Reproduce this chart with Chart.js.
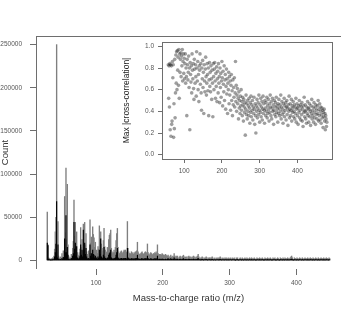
<!DOCTYPE html>
<html>
<head>
<meta charset="utf-8">
<script src="https://cdn.jsdelivr.net/npm/chart.js@4.4.1/dist/chart.umd.min.js"></script>
<style>
  body { margin: 0; background: #fff; }
  #wrap { position: relative; width: 360px; height: 315px; }
  #mainChart { position: absolute; left: 0; top: 0; }
  #insetChart { position: absolute; left: 110px; top: 30px; }
</style>
</head>
<body>
<div id="wrap">
  <canvas id="mainChart" width="360" height="315"></canvas>
  <canvas id="insetChart" width="235" height="160"></canvas>
</div>
<script>
// m/z range of the spectrum (one bar per integer m/z)
const mzFirst = 27;
const mzLast = 450;

// total counts per m/z (grey bars)
const countAll = [
  56000, 18000, 3000, 2000, 1500, 1000, 2000, 1000, 3000, 2000,
  5000, 13000, 33000, 50000, 250000, 9000, 45000, 5000, 3000, 2000,
  4000, 2000, 8000, 4000, 11000, 6000, 74000, 32000, 107000, 24000,
  88000, 18000, 5000, 3000, 2000, 3000, 7000, 4000, 14000, 22000,
  70000, 28000, 44000, 14000, 33000, 9000, 6000, 5000, 9000, 13000,
  38000, 15000, 24000, 11000, 42000, 28000, 44000, 18000, 31000, 10000,
  7000, 6000, 11000, 8000, 47000, 20000, 27000, 13000, 39000, 30000,
  26000, 15000, 21000, 9000, 12000, 8000, 16000, 13000, 40000, 29000,
  33000, 19000, 14000, 11000, 23000, 37000, 16000, 12000, 10000, 9000,
  15000, 13000, 24000, 29000, 31000, 35000, 14000, 10000, 8000, 9000,
  12000, 9000, 15000, 23000, 31000, 37000, 15000, 10000, 8000, 7000,
  10000, 11000, 9000, 8000, 10000, 12000, 11000, 12000, 10000, 9000,
  45000, 14000, 10000, 8000, 7000, 8000, 10000, 9000, 8000, 7000,
  9000, 8000, 10000, 9000, 11000, 21000, 10000, 8000, 7000, 6000,
  8000, 9000, 10000, 8000, 7000, 8000, 9000, 10000, 8000, 9000,
  19000, 9000, 7000, 6000, 8000, 9000, 8000, 7000, 6000, 8000,
  7000, 9000, 8000, 10000, 8000, 18000, 8000, 6000, 7000, 6000,
  7000, 6000, 8000, 7000, 6000, 5000, 6000, 7000, 6000, 5000,
  5000, 6000, 4000, 3000, 5000, 6000, 4000, 2000, 5000, 4000,
  8000, 5000, 3000, 5000, 4000, 5000, 3000, 2000, 4000, 5000,
  4000, 2000, 4000, 5000, 6000, 4000, 2000, 4000, 3000, 4000,
  2000, 4000, 5000, 4000, 2000, 4000, 3000, 2000, 4000, 5000,
  4000, 2000, 3000, 4000, 3000, 5000, 7000, 4000, 2000, 3000,
  1000, 3000, 4000, 3000, 1000, 3000, 2000, 3000, 4000, 3000,
  1000, 3000, 2000, 3000, 3000, 1000, 3000, 4000, 3000, 1000,
  2000, 3000, 1000, 2000, 3000, 2000, 3000, 1000, 3000, 4000,
  3000, 1000, 2000, 3000, 2000, 1000, 3000, 2000, 3000, 1000,
  2000, 3000, 1000, 2000, 3000, 2000, 1000, 3000, 2000, 2000,
  3000, 1000, 500, 3000, 2000, 3000, 1000, 500, 2000, 3000,
  2000, 1000, 3000, 2000, 500, 2000, 3000, 2000, 1000, 3000,
  2000, 500, 2000, 3000, 2000, 1000, 3000, 2000, 500, 2000,
  3000, 2000, 1000, 500, 3000, 2000, 2000, 1000, 3000, 2000,
  500, 2000, 3000, 2000, 1000, 500, 3000, 2000, 2000, 1000,
  3000, 2000, 500, 2000, 3000, 2000, 1000, 500, 3000, 2000,
  2000, 3000, 1000, 500, 2000, 3000, 2000, 1000, 500, 3000,
  2000, 2000, 1000, 3000, 2000, 500, 3000, 2000, 2000, 1000,
  3000, 2000, 500, 2000, 3000, 4000, 5000, 3000, 1000, 500,
  3000, 2000, 2000, 1000, 3000, 2000, 500, 2000, 3000, 2000,
  2000, 1000, 3000, 2000, 500, 2000, 3000, 2000, 2000, 1000,
  3000, 2000, 500, 2000, 3000, 2000, 2000, 1000, 3000, 2000,
  500, 2000, 3000, 2000, 2000, 1000, 3000, 2000, 500, 2000,
  3000, 2000, 2000, 1000, 3000, 2000, 500, 2000, 3000, 2000,
  2000, 1000, 3000, 2000
];

// counts of the selected subset per m/z (black bars)
const countSub = [
  20000, 17000, 1500, 800, 500, 300, 600, 300, 1000, 600,
  1500, 4000, 9000, 19000, 68000, 3000, 18000, 1500, 1000, 600,
  1200, 600, 2500, 1200, 3500, 2000, 25000, 9000, 52000, 9000,
  15000, 6000, 1500, 1000, 700, 1000, 2500, 1500, 5000, 8000,
  44000, 13000, 20000, 5000, 16000, 3000, 2000, 1500, 3000, 5000,
  18000, 6000, 12000, 4000, 35000, 12000, 20000, 7000, 14000, 4000,
  2000, 1000, 2500, 1500, 18000, 5000, 8000, 3000, 12000, 7000,
  6000, 3000, 5000, 1500, 3000, 1500, 4000, 2500, 12000, 7000,
  25000, 4000, 3000, 2000, 6000, 15000, 4000, 2500, 2000, 1500,
  3000, 2500, 6000, 8000, 9000, 12000, 3000, 2000, 1500, 1500,
  2500, 2000, 3000, 6000, 9000, 14000, 3000, 2000, 1500, 1500,
  2000, 2500, 2000, 1500, 2000, 2500, 2000, 2500, 2000, 1500,
  14000, 3000, 2000, 1500, 1500, 1500, 2000, 2000, 1500, 1500,
  2000, 1500, 2000, 2000, 2500, 6000, 2000, 1500, 1500, 1000,
  1500, 2000, 2000, 1500, 1500, 1500, 2000, 2000, 1500, 2000,
  5000, 2000, 1500, 1000, 1500, 2000, 1500, 1500, 1000, 1500,
  1500, 2000, 1500, 2000, 1500, 5000, 1500, 1000, 1500, 1000,
  1500, 1000, 1500, 1500, 1000, 1000, 1000, 1500, 1000, 1000,
  1500, 2000, 1200, 800, 1500, 2000, 1200, 600, 1500, 1200,
  3000, 1500, 900, 1500, 1200, 1500, 900, 600, 1200, 1500,
  1200, 600, 1200, 1500, 2000, 1200, 600, 1200, 900, 1200,
  600, 1200, 1500, 1200, 600, 1200, 900, 600, 1200, 1500,
  1200, 600, 900, 1200, 900, 1500, 2500, 1200, 600, 900,
  300, 900, 1200, 900, 300, 900, 600, 900, 1200, 900,
  300, 900, 600, 900, 900, 300, 900, 1200, 900, 300,
  600, 900, 300, 600, 900, 600, 900, 300, 900, 1200,
  900, 300, 600, 900, 600, 300, 900, 600, 900, 300,
  600, 900, 300, 600, 900, 600, 300, 900, 600, 600,
  900, 300, 150, 900, 600, 900, 300, 150, 600, 900,
  600, 300, 900, 600, 150, 600, 900, 600, 300, 900,
  600, 150, 600, 900, 600, 300, 900, 600, 150, 600,
  900, 600, 300, 150, 900, 600, 600, 300, 900, 600,
  150, 600, 900, 600, 300, 150, 900, 600, 600, 300,
  900, 600, 150, 600, 900, 600, 300, 150, 900, 600,
  600, 900, 300, 150, 600, 900, 600, 300, 150, 900,
  600, 600, 300, 900, 600, 150, 900, 600, 600, 300,
  900, 600, 150, 600, 900, 1200, 1500, 900, 300, 150,
  900, 600, 600, 300, 900, 600, 150, 600, 900, 600,
  600, 300, 900, 600, 150, 600, 900, 600, 600, 300,
  900, 600, 150, 600, 900, 600, 600, 300, 900, 600,
  150, 600, 900, 600, 600, 300, 900, 600, 150, 600,
  900, 600, 600, 300, 900, 600, 150, 600, 900, 600,
  600, 300, 900, 600
];

const countTicks = [0, 50000, 100000, 150000, 200000, 250000];
const mzTicks = [100, 200, 300, 400];

// inset: max |cross-correlation| per m/z
const corrMzFirst = 58;
const corrMax = [
  0.83, 0.52, 0.82, 0.44, 0.84, 0.23, 0.83, 0.17, 0.82, 0.28,
  0.31, 0.86, 0.71, 0.83, 0.16, 0.47, 0.24, 0.88, 0.34, 0.57,
  0.92, 0.66, 0.95, 0.60, 0.96, 0.78, 0.90, 0.64, 0.97, 0.52,
  0.93, 0.76, 0.88, 0.94, 0.72, 0.91, 0.82, 0.97, 0.68, 0.86,
  0.93, 0.75, 0.89,
  0.70, 0.84, 0.93, 0.66, 0.80, 0.72, 0.36, 0.88, 0.83, 0.69,
  0.76, 0.91, 0.62, 0.80, 0.23, 0.85, 0.74, 0.67, 0.82, 0.57,
  0.93, 0.78, 0.70, 0.84, 0.61, 0.51, 0.88, 0.79, 0.66, 0.83,
  0.72, 0.54, 0.95, 0.80, 0.68, 0.86, 0.60, 0.74, 0.49, 0.82,
  0.78, 0.93, 0.65, 0.84, 0.57, 0.41, 0.80, 0.70, 0.87, 0.62,
  0.76, 0.38, 0.83, 0.68, 0.58, 0.79, 0.90, 0.72, 0.55, 0.66,
  0.84, 0.74, 0.59, 0.80, 0.36, 0.69, 0.85, 0.63, 0.76, 0.58,
  0.82, 0.70, 0.51, 0.78, 0.66, 0.35, 0.84, 0.72, 0.60, 0.79,
  0.85, 0.68, 0.52, 0.75, 0.63, 0.81, 0.49, 0.70, 0.77, 0.57,
  0.84, 0.66, 0.72, 0.48, 0.80, 0.62, 0.75, 0.53, 0.68, 0.86,
  0.71, 0.45, 0.77, 0.65, 0.58, 0.82, 0.50, 0.69, 0.74, 0.42,
  0.63, 0.79, 0.56, 0.70, 0.38, 0.66, 0.60, 0.76, 0.47, 0.72,
  0.55, 0.68, 0.41, 0.64, 0.74, 0.50, 0.59, 0.36, 0.69, 0.46,
  0.62, 0.53, 0.71, 0.44, 0.57, 0.86, 0.49, 0.64, 0.40, 0.55,
  0.61, 0.47, 0.52, 0.33, 0.58, 0.43, 0.50, 0.38, 0.54, 0.45,
  0.60, 0.41, 0.49, 0.36, 0.53, 0.46, 0.31, 0.51, 0.44, 0.39,
  0.48, 0.18, 0.42, 0.55, 0.37, 0.47, 0.33, 0.50, 0.40, 0.45,
  0.36, 0.52, 0.43, 0.29, 0.48, 0.39, 0.54, 0.35, 0.46, 0.41,
  0.50, 0.32, 0.44, 0.38, 0.53, 0.42, 0.28, 0.47, 0.36, 0.20,
  0.45, 0.40, 0.51, 0.34, 0.43, 0.48, 0.37, 0.55, 0.41, 0.30,
  0.46, 0.39, 0.52, 0.35, 0.44, 0.49, 0.32, 0.42, 0.54, 0.38,
  0.47, 0.41, 0.29, 0.50, 0.43, 0.36, 0.48, 0.40, 0.53, 0.34,
  0.45, 0.38, 0.51, 0.42, 0.31, 0.47, 0.39, 0.55, 0.44, 0.36,
  0.49, 0.33, 0.43, 0.52, 0.40, 0.46, 0.28, 0.41, 0.50, 0.37,
  0.44, 0.48, 0.35, 0.53, 0.39, 0.45, 0.42, 0.30, 0.47, 0.38,
  0.51, 0.43, 0.36, 0.46, 0.40, 0.55, 0.33, 0.44, 0.49, 0.37,
  0.42, 0.29, 0.47, 0.39, 0.52, 0.35, 0.45, 0.41, 0.48, 0.32,
  0.44, 0.50, 0.37, 0.43, 0.27, 0.46, 0.40, 0.54, 0.34, 0.42,
  0.47, 0.36, 0.41, 0.51, 0.31, 0.45, 0.39, 0.43, 0.49, 0.35,
  0.40, 0.46, 0.33, 0.44, 0.38, 0.52, 0.30, 0.42, 0.47, 0.36,
  0.43, 0.28, 0.45, 0.39, 0.50, 0.34, 0.41, 0.46, 0.32, 0.44,
  0.37, 0.48, 0.31, 0.42, 0.26, 0.45, 0.39, 0.53, 0.35, 0.40,
  0.46, 0.33, 0.41, 0.29, 0.44, 0.38, 0.49, 0.36, 0.43, 0.30,
  0.42, 0.47, 0.35, 0.40, 0.27, 0.45, 0.38, 0.51, 0.33, 0.41,
  0.36, 0.44, 0.30, 0.48, 0.39, 0.34, 0.43, 0.28, 0.46, 0.37,
  0.41, 0.33, 0.45, 0.38, 0.50, 0.31, 0.42, 0.36, 0.47, 0.32,
  0.40, 0.44, 0.29, 0.37, 0.43, 0.34, 0.41, 0.25, 0.39, 0.35,
  0.42, 0.31, 0.38, 0.23, 0.36, 0.33, 0.26, 0.30
];
const corrTicks = [0, 0.2, 0.4, 0.6, 0.8, 1.0];
const corrMzTicks = [100, 200, 300, 400];

const fontFamily = 'Liberation Sans, Arial, sans-serif';
const lineColor = '#6e6e6e';

// build {x, y} points for the library
const allPoints = countAll.map((v, i) => ({ x: mzFirst + i, y: v }));
const subPoints = countSub.map((v, i) => ({ x: mzFirst + i, y: v }));
const corrPoints = corrMax.map((v, i) => ({ x: corrMzFirst + i, y: v }));

// R-style frame lines
const frameLines = {
  id: 'frameLines',
  afterDraw(chart, args, opts) {
    const { ctx, chartArea } = chart;
    ctx.save();
    ctx.strokeStyle = lineColor;
    ctx.lineWidth = 1;
    ctx.beginPath();
    if (opts.box) {
      ctx.strokeRect(Math.round(chartArea.left) + 0.5, Math.round(chartArea.top) + 0.5,
        Math.round(chartArea.right - chartArea.left), Math.round(chartArea.bottom - chartArea.top));
    } else {
      const y = Math.round(chartArea.top) + 0.5;
      ctx.moveTo(chartArea.left, y);
      ctx.lineTo(chartArea.right, y);
      const x = Math.round(chartArea.left) + 0.5;
      ctx.moveTo(x, chartArea.top);
      ctx.lineTo(x, chartArea.bottom);
      ctx.stroke();
    }
    ctx.restore();
  }
};

// spectrum
new Chart(document.getElementById('mainChart'), {
  type: 'bar',
  data: {
    datasets: [
      { label: 'subset', data: subPoints, backgroundColor: '#000', barThickness: 0.5, order: 0 },
      { label: 'all', data: allPoints, backgroundColor: '#7f7f7f', barThickness: 0.7, order: 1 }
    ]
  },
  options: {
    responsive: false,
    animation: false,
    devicePixelRatio: 1,
    layout: { padding: { top: 36, right: 19, left: 0, bottom: 0 } },
    plugins: { legend: { display: false }, tooltip: { enabled: false }, frameLines: { box: false } },
    datasets: { bar: { grouped: false } },
    scales: {
      x: {
        type: 'linear',
        min: 10.1,
        max: 466.9,
        offset: false,
        afterBuildTicks: s => { s.ticks = mzTicks.map(v => ({ value: v })); },
        afterFit: s => { s.height = 46; },
        border: { display: false },
        grid: { drawOnChartArea: false, offset: false, tickLength: 6, color: lineColor },
        ticks: { color: '#555', font: { family: fontFamily, size: 6.5 }, padding: 4, maxRotation: 0 },
        title: { display: true, text: 'Mass-to-charge ratio (m/z)', color: '#333',
          font: { family: fontFamily, size: 9.5 }, padding: { top: 4, bottom: 11 } }
      },
      y: {
        min: -10000,
        max: 260000,
        afterBuildTicks: s => { s.ticks = countTicks.map(v => ({ value: v })); },
        afterFit: s => { s.width = 36; },
        border: { display: false },
        grid: { drawOnChartArea: false, tickLength: 6, color: lineColor },
        ticks: { color: '#555', font: { family: fontFamily, size: 6.5 }, padding: 8,
          callback: v => String(v) },
        title: { display: true, text: 'Count', color: '#333',
          font: { family: fontFamily, size: 9.5 }, padding: { top: 0, bottom: 2 } }
      }
    }
  },
  plugins: [frameLines]
});

// inset scatter
new Chart(document.getElementById('insetChart'), {
  type: 'scatter',
  data: {
    datasets: [{
      data: corrPoints,
      backgroundColor: 'rgba(40,40,40,0.45)',
      borderWidth: 0,
      pointRadius: 1.8
    }]
  },
  options: {
    responsive: false,
    animation: false,
    devicePixelRatio: 1,
    layout: { padding: { top: 12, right: 13, left: 12, bottom: 0 } },
    plugins: { legend: { display: false }, tooltip: { enabled: false }, frameLines: { box: true } },
    scales: {
      x: {
        type: 'linear',
        min: 41.3,
        max: 491.7,
        afterBuildTicks: s => { s.ticks = corrMzTicks.map(v => ({ value: v })); },
        afterFit: s => { s.height = 31; },
        border: { display: false },
        grid: { drawOnChartArea: false, tickLength: 4, color: lineColor },
        ticks: { color: '#555', font: { family: fontFamily, size: 6.5 }, padding: 4, maxRotation: 0 }
      },
      y: {
        min: -0.04,
        max: 1.04,
        afterBuildTicks: s => { s.ticks = corrTicks.map(v => ({ value: v })); },
        afterFit: s => { s.width = 40; },
        border: { display: false },
        grid: { drawOnChartArea: false, tickLength: 4, color: lineColor },
        ticks: { color: '#555', font: { family: fontFamily, size: 6.5 }, padding: 4,
          callback: v => v.toFixed(1) },
        title: { display: true, text: 'Max |cross-correlation|', color: '#222',
          font: { family: fontFamily, size: 8.5 }, padding: { top: 0, bottom: 2 } }
      }
    }
  },
  plugins: [frameLines]
});
</script>
</body>
</html>
